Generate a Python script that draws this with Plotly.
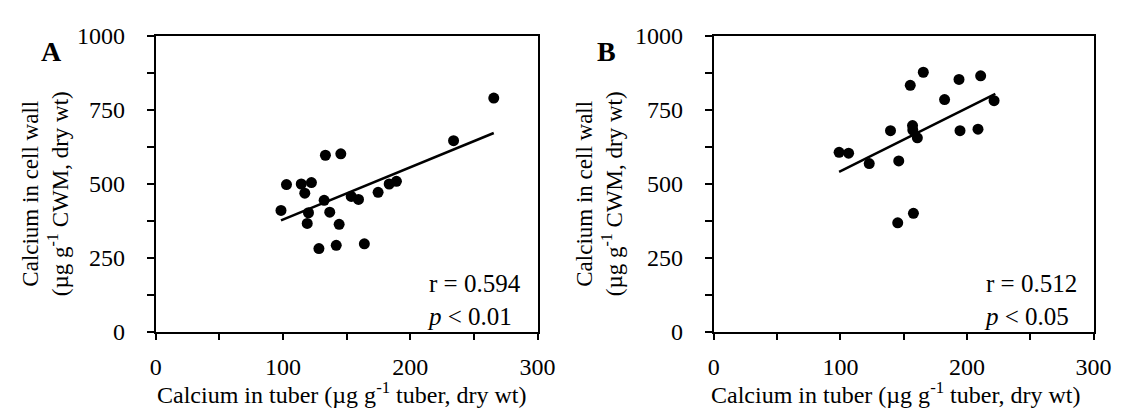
import plotly.graph_objects as go

# Panel A data
a_x = [98.4, 102.7, 114.3, 117.1, 122.3, 120.0, 119.0, 128.2, 132.3, 133.3, 136.7,
       141.8, 144.1, 145.4, 153.6, 159.3, 163.9, 174.7, 183.4, 189.1, 234.0, 265.6]
a_y = [410, 497, 499, 468, 504, 402, 366, 281, 444, 596, 404,
       292, 363, 601, 457, 447, 297, 471, 499, 508, 645, 789]
a_fit_x = [98.4, 265.6]
a_fit_y = [376, 671]

# Panel B data
b_x = [99.0, 106.5, 122.8, 139.6, 146.1, 145.3, 155.2, 157.0, 157.2, 157.7, 160.8,
       165.5, 182.3, 193.7, 194.5, 208.7, 210.8, 221.4]
b_y = [606, 603, 568, 679, 577, 368, 832, 696, 681, 400, 655,
       876, 784, 852, 679, 684, 864, 780]
b_fit_x = [99.0, 222.4]
b_fit_y = [540, 803]

x_ticks = [0, 100, 200, 300]
y_ticks = [0, 250, 500, 750, 1000]

W, H = 1139, 419
FONT = "Liberation Serif"

fig = go.Figure()
for xs, ys, fx, fy, xa, ya in [(a_x, a_y, a_fit_x, a_fit_y, "x", "y"),
                               (b_x, b_y, b_fit_x, b_fit_y, "x2", "y2")]:
    fig.add_trace(go.Scatter(x=fx, y=fy, mode="lines", line=dict(color="black", width=2.5),
                             xaxis=xa, yaxis=ya, showlegend=False))
    fig.add_trace(go.Scatter(x=xs, y=ys, mode="markers",
                             marker=dict(color="black", size=11, line=dict(width=0)),
                             xaxis=xa, yaxis=ya, showlegend=False))

def px_x(p):
    return p / W

def px_y(p):
    return 1 - p / H

ydom = [px_y(340), px_y(24)]
axis_common = dict(showline=True, linecolor="black", linewidth=2, mirror=True,
                   ticks="outside", tickcolor="black", tickwidth=2, showgrid=False,
                   zeroline=False, tickfont=dict(family=FONT, size=24, color="black"))

xminor = dict(dtick=50, tick0=0, ticks="outside", ticklen=6, tickwidth=2, tickcolor="black")
yminor = dict(dtick=125, tick0=0, ticks="outside", ticklen=7, tickwidth=2, tickcolor="black")

fig.update_layout(
    width=W, height=H, margin=dict(l=0, r=0, t=0, b=0),
    paper_bgcolor="white", plot_bgcolor="white",
    xaxis=dict(domain=[px_x(153), px_x(543)], range=[0, 300], tickvals=x_ticks, ticklen=6,
               ticklabelstandoff=6, minor=xminor, anchor="y", **axis_common),
    yaxis=dict(domain=ydom, range=[0, 1000], tickvals=y_ticks, ticklen=7,
               ticklabelstandoff=17, minor=yminor, anchor="x", **axis_common),
    xaxis2=dict(domain=[px_x(723), px_x(1111)], range=[0, 300], tickvals=x_ticks, ticklen=6,
                ticklabelstandoff=6, minor=xminor, anchor="y2", **axis_common),
    yaxis2=dict(domain=ydom, range=[0, 1000], tickvals=y_ticks, ticklen=7,
                ticklabelstandoff=17, minor=yminor, anchor="x2", **axis_common),
)

ann = []
ytitle = "Calcium in cell wall<br>(µg g<sup>-1</sup> CWM, dry wt)"
xtitle = "Calcium in tuber (µg g<sup>-1</sup> tuber, dry wt)"
for cx in (40, 606):
    ann.append(dict(text=ytitle, x=px_x(cx), y=px_y(193), xref="paper", yref="paper",
                    textangle=-90, showarrow=False, font=dict(family=FONT, size=23, color="black"),
                    xanchor="center", yanchor="middle"))
for cx in (343, 909):
    ann.append(dict(text=xtitle, x=px_x(cx), y=px_y(405), xref="paper", yref="paper",
                    showarrow=False, font=dict(family=FONT, size=24, color="black"),
                    xanchor="center", yanchor="middle"))
for lab, cx in (("A", 46), ("B", 613)):
    ann.append(dict(text=f"<b>{lab}</b>", x=px_x(cx), y=px_y(41), xref="paper", yref="paper",
                    showarrow=False, font=dict(family=FONT, size=28, color="black"),
                    xanchor="center", yanchor="middle"))
for txt, lx in (("r = 0.594<br><i>p</i> < 0.01", 428), ("r = 0.512<br><i>p</i> < 0.05", 997)):
    ann.append(dict(text=txt, x=px_x(lx), y=px_y(306), xref="paper", yref="paper",
                    showarrow=False, font=dict(family=FONT, size=25, color="black"),
                    xanchor="left", yanchor="middle", align="left"))
fig.update_layout(annotations=ann)

fig.write_html("out.html")
